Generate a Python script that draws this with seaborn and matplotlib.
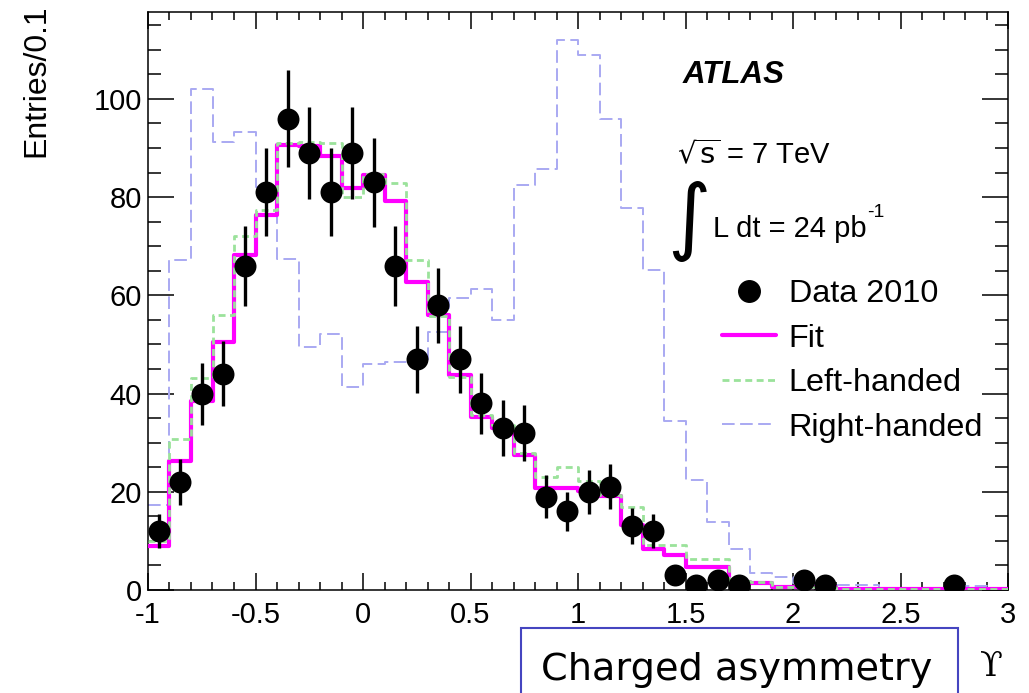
import numpy as np
import pandas as pd
import matplotlib
matplotlib.use("Agg")
import matplotlib.pyplot as plt
import seaborn as sns
from matplotlib.lines import Line2D
from matplotlib.patches import Rectangle
from matplotlib.ticker import MultipleLocator, FormatStrFormatter

# ---------------- data ----------------
bin_edges = [round(-1.0 + 0.1 * i, 2) for i in range(41)]
bin_centers = [round(e + 0.05, 3) for e in bin_edges[:-1]]

data_2010 = [12, 22, 40, 44, 66, 81, 96, 89, 81, 89,
             83, 66, 47, 58, 47, 38, 33, 32, 19, 16,
             20, 21, 13, 12, 3, 1, 2, 1, 0, 0,
             2, 1, 0, 0, 0, 0, 0, 1, 0, 0]

fit = [9.0, 26.3, 38.4, 50.6, 68.2, 76.3, 90.6, 90.4, 88.3, 81.8,
       84.5, 79.2, 62.7, 56.0, 43.8, 35.3, 33.0, 27.5, 20.7, 20.7,
       20.2, 19.2, 13.3, 8.3, 7.1, 4.7, 4.7, 1.6, 1.4, 0.7,
       0.7, 0.7, 0.3, 0.3, 0.3, 0.3, 0.3, 0.3, 0.3, 0.3]

left_handed = [10.0, 30.7, 43.2, 56.0, 72.0, 77.4, 91.0, 91.3, 91.0, 80.1,
               84.7, 82.8, 67.3, 55.7, 43.4, 35.6, 33.5, 27.9, 23.1, 25.1,
               22.1, 19.4, 17.0, 9.2, 9.2, 6.3, 6.3, 1.8, 1.7, 0.7,
               0.7, 0.6, 0.3, 0.3, 0.3, 0.3, 0.3, 0.3, 0.3, 0.3]

right_handed = [17.3, 67.2, 102.0, 91.2, 93.3, 82.0, 67.5, 49.5, 52.1, 41.4,
                46.0, 46.4, 46.5, 52.6, 59.5, 61.3, 55.0, 82.5, 85.7, 112.1,
                109.0, 95.9, 77.7, 65.2, 34.5, 22.4, 13.9, 8.3, 3.4, 2.7,
                1.4, 0.9, 1.0, 1.0, 0.3, 0.3, 0.3, 0.5, 0.8, 0.5]

x_tick_labels = ["-1", "-0.5", "0", "0.5", "1", "1.5", "2", "2.5", "3"]
x_ticks = [-1, -0.5, 0, 0.5, 1, 1.5, 2, 2.5, 3]
y_ticks = [0, 20, 40, 60, 80, 100]

# ---------------- style ----------------
sns.set_style("ticks")
plt.rcParams["font.family"] = ["Liberation Sans", "DejaVu Sans"]
plt.rcParams["axes.unicode_minus"] = False
plt.rcParams["mathtext.fontset"] = "dejavusans"
for key in ["text.color", "axes.labelcolor", "xtick.color", "ytick.color",
            "axes.edgecolor"]:
    plt.rcParams[key] = "black"

MAGENTA = "#ff00ff"
GREEN = "#9be29b"
BLUE = "#a9a9f2"

fig, ax = plt.subplots(figsize=(10.29, 6.93), dpi=100)
fig.subplots_adjust(left=148/1029, right=1008/1029, bottom=1-590/693, top=1-12/693)

df = pd.DataFrame({"r": bin_centers, "data": data_2010, "fit": fit,
                   "left": left_handed, "right": right_handed})

sns.histplot(data=df, x="r", weights="right", bins=bin_edges, element="step",
             fill=False, color=BLUE, linewidth=1.4, linestyle=(0, (6.5, 2.8)), ax=ax, zorder=2)
sns.histplot(data=df, x="r", weights="fit", bins=bin_edges, element="step",
             fill=False, color=MAGENTA, linewidth=3.0, ax=ax, zorder=3)
sns.histplot(data=df, x="r", weights="left", bins=bin_edges, element="step",
             fill=False, color=GREEN, linewidth=2.0, linestyle=(0, (2.5, 1.6)), ax=ax, zorder=4)

dd = df[df["data"] > 0]
ax.errorbar(dd["r"], dd["data"], yerr=np.sqrt(dd["data"]), fmt="none",
            ecolor="black", elinewidth=2.4, capsize=0, zorder=5)
sns.scatterplot(data=dd, x="r", y="data", color="black", s=250, linewidth=0,
                ax=ax, zorder=6, legend=False)

ax.set_xlim(-1, 3)
ax.set_ylim(0, 117.7)

ax.set_xticks(x_ticks)
ax.set_xticklabels(x_tick_labels)
ax.xaxis.set_minor_locator(MultipleLocator(0.1))
ax.set_yticks(y_ticks)
ax.yaxis.set_major_formatter(FormatStrFormatter("%d"))
ax.yaxis.set_minor_locator(MultipleLocator(5))

ax.tick_params(axis="both", which="both", direction="in", top=True, right=True,
               colors="black", width=1.1)
ax.tick_params(axis="y", which="major", length=19, labelsize=21, pad=4.5)
ax.tick_params(axis="y", which="minor", length=9.5)
ax.tick_params(axis="x", which="major", length=12, labelsize=21, pad=8)
ax.tick_params(axis="x", which="minor", length=6)
for sp in ax.spines.values():
    sp.set_linewidth(1.1)
    sp.set_color("black")

ax.set_ylabel("Entries/0.1", fontsize=23, loc="top")
ax.yaxis.set_label_coords(-0.112, 1.013)
ax.set_xlabel("\u03d2", fontsize=24, loc="right", family="DejaVu Serif")
ax.xaxis.set_label_coords(0.994, -0.105)

# annotations
ax.text(1.488, 103.3, "ATLAS", fontsize=22.5, fontweight="bold", fontstyle="italic")
ax.text(1.46, 86.6, r"$\sqrt{\mathsf{s}}$ = 7 TeV", fontsize=21)
ax.text(1.515, 75.0, "\u222b", fontsize=60, family="DejaVu Sans", ha="center", va="center")
ax.text(1.628, 71.9, "L dt = 24 pb", fontsize=21)
ax.text(2.345, 78.6, "-1", fontsize=14, va="top")

handles = [
    Line2D([], [], marker="o", color="black", linestyle="none", markersize=15.5),
    Line2D([], [], color=MAGENTA, linewidth=3.0),
    Line2D([], [], color=GREEN, linewidth=2.0, linestyle=(0, (2.5, 1.6))),
    Line2D([], [], color=BLUE, linewidth=1.4, linestyle=(0, (6.5, 2.8))),
]
labels = ["Data 2010", "Fit", "Left-handed", "Right-handed"]
ax.legend(handles, labels, loc="upper left", bbox_to_anchor=(722/1029, 1-279/693),
          bbox_transform=fig.transFigure, frameon=False, fontsize=23.3,
          borderpad=0, borderaxespad=0, handlelength=1.66, handletextpad=0.4,
          labelspacing=0.45)

# boxed caption
fig.patches.append(Rectangle((521/1029, -0.05), 437/1029, (693-628)/693 + 0.05,
                             transform=fig.transFigure, fill=False,
                             edgecolor="#4545c0", linewidth=1.5))
fig.text(737/1029, 1-680/693, "Charged asymmetry", fontsize=27.5,
         family="DejaVu Sans", color="black", ha="center", va="baseline")

fig.savefig("out.png", dpi=100)
